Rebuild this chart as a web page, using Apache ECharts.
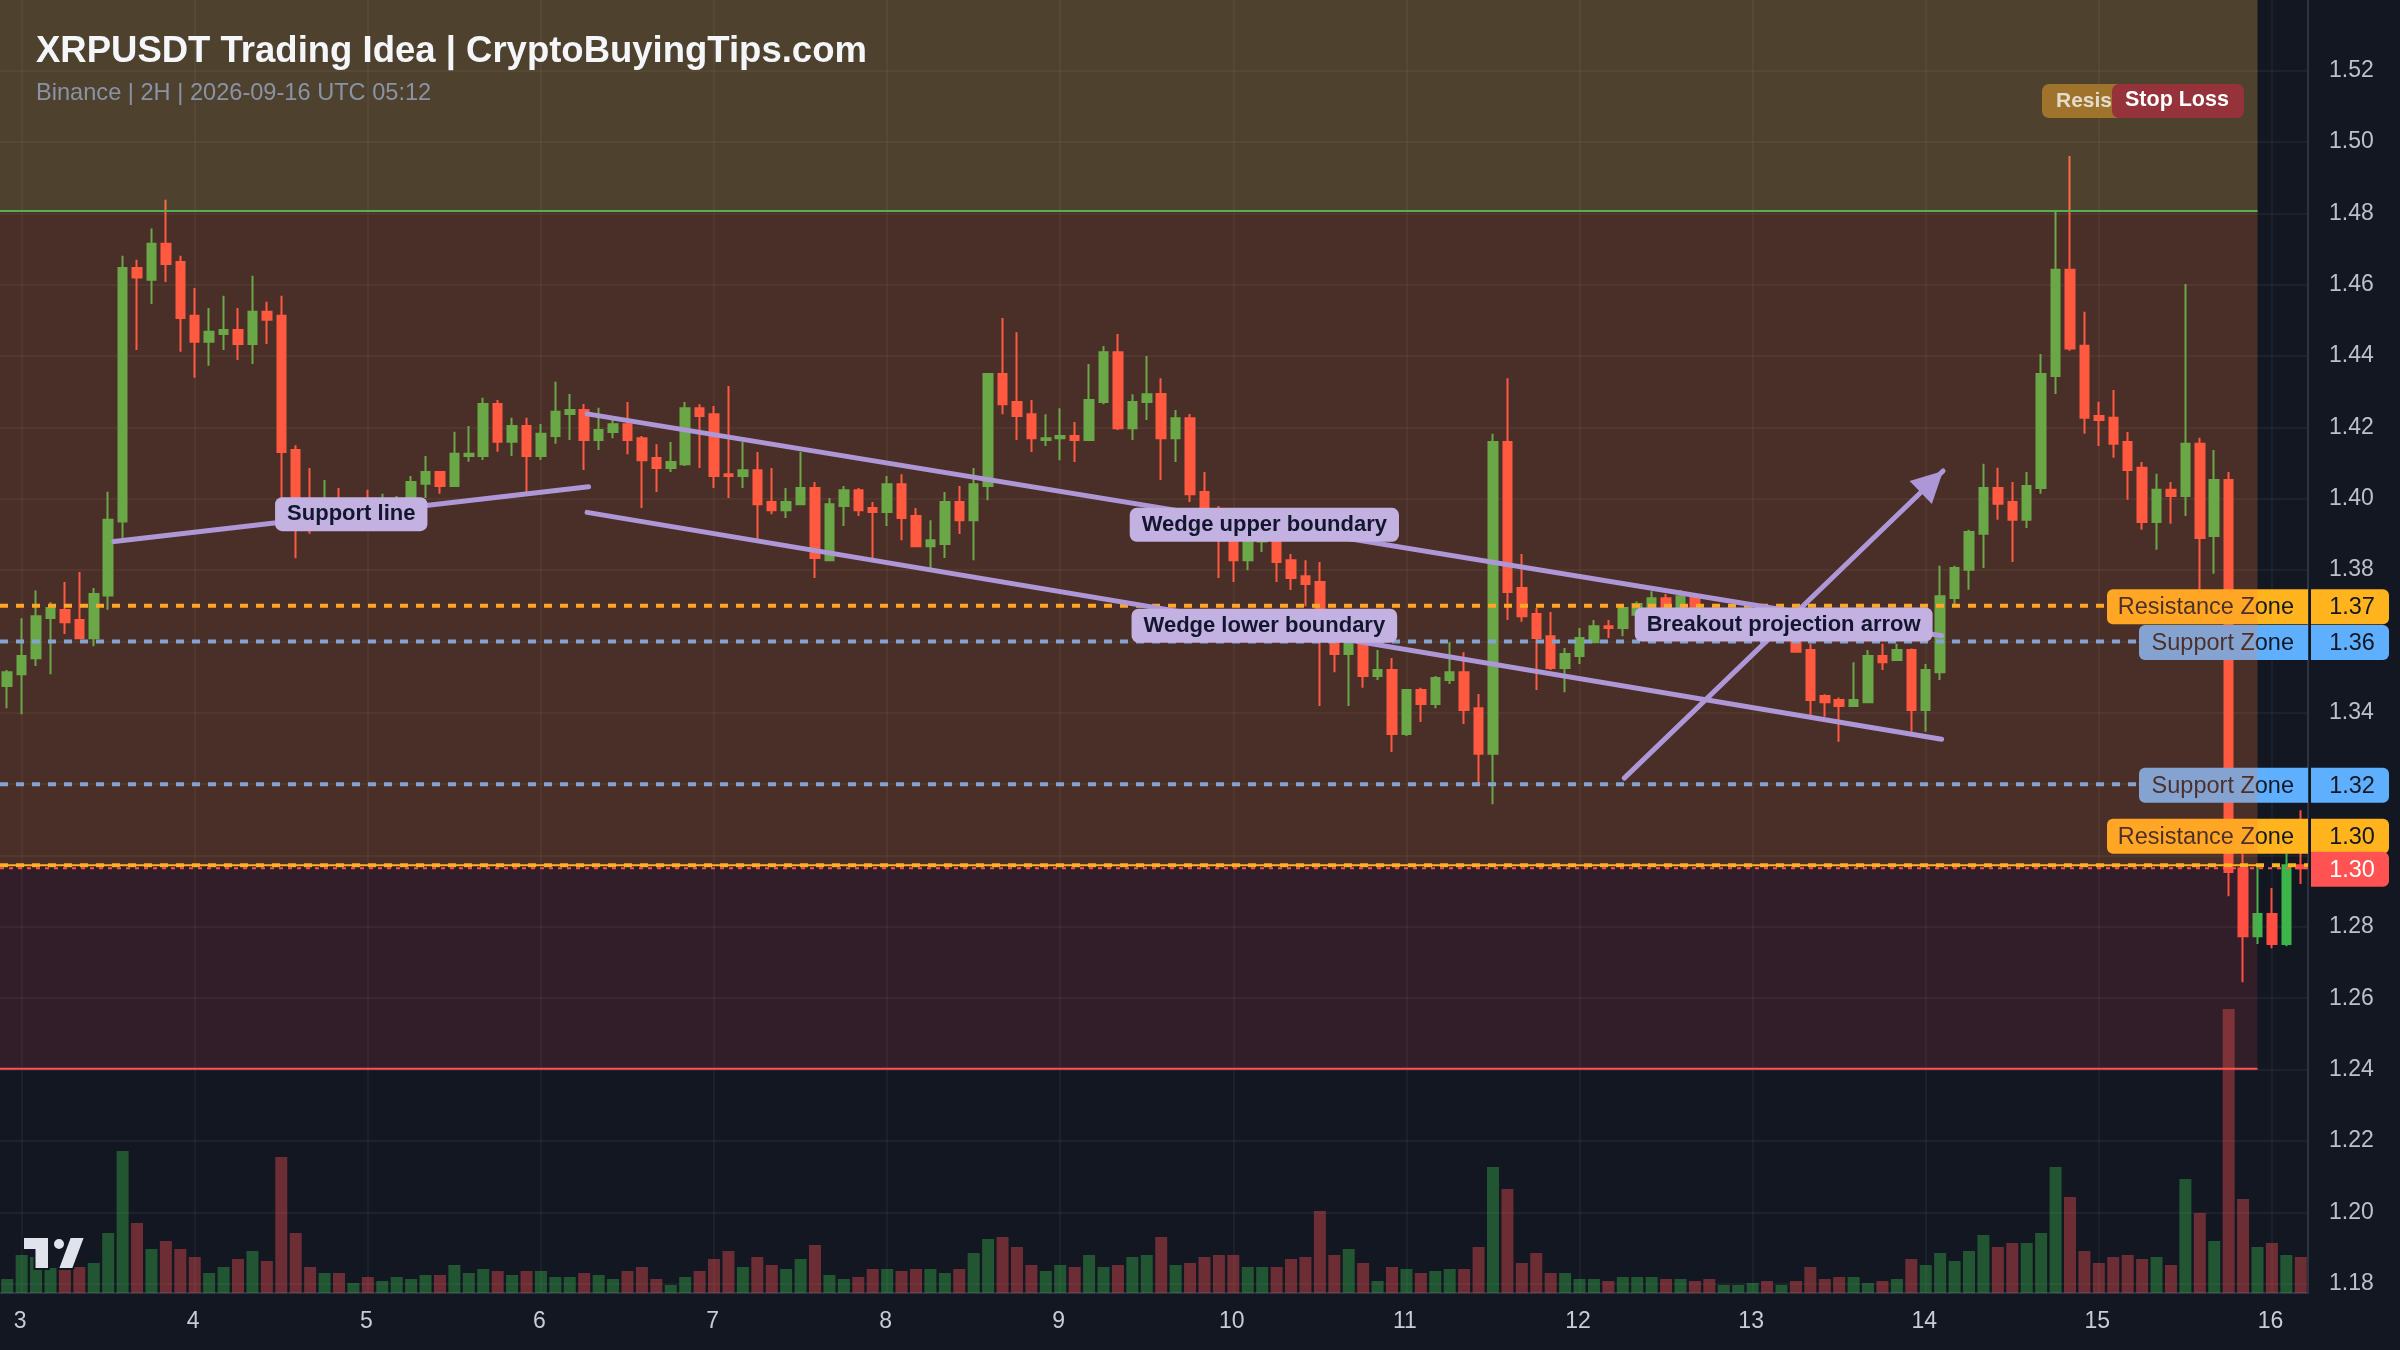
<!DOCTYPE html>
<html>
<head>
<meta charset="utf-8">
<title>XRPUSDT Trading Idea</title>
<script src="https://cdn.jsdelivr.net/npm/echarts@6/dist/echarts.min.js"></script>
<style>
  html, body { margin: 0; padding: 0; background: #121722; }
  #mainECharts { width: 2400px; height: 1350px; }
</style>
</head>
<body>
<div id="mainECharts"></div>
<script>
// candles, one every 2h
var opens = [
  1.3475,1.3508,1.3553,1.3666,1.3688,1.3660,1.3609,1.3729,1.3936,1.4647,1.4614,1.4715,
  1.4664,1.4513,1.4440,1.4462,1.4473,1.4434,1.4524,1.4513,1.4137,1.3995,1.3975,1.3985,
  1.3975,1.3990,1.3965,1.3970,1.4000,1.4042,1.4075,1.4036,1.4120,1.4120,1.4266,1.4160,
  1.4204,1.4120,1.4176,1.4238,1.4249,1.4165,1.4187,1.4209,1.4170,1.4114,1.4086,1.4097,
  1.4254,1.4237,1.4069,1.4064,1.4080,1.3991,1.3968,1.3985,1.4030,1.3828,1.3980,1.4024,
  1.3974,1.3963,1.4041,1.3952,1.3867,1.3873,1.3991,1.3940,1.4036,1.4350,1.4271,1.4237,
  1.4165,1.4170,1.4176,1.4165,1.4271,1.4411,1.4198,1.4271,1.4294,1.4170,1.4226,1.4019,
  1.3965,1.3890,1.3828,1.3880,1.3895,1.3828,1.3783,1.3767,1.3650,1.3565,1.3645,1.3503,
  1.3520,1.3341,1.3464,1.3425,1.3492,1.3514,1.3413,1.3285,1.4159,1.3750,1.3677,1.3615,
  1.3526,1.3559,1.3598,1.3643,1.3638,1.3675,1.3690,1.3721,1.3690,1.3725,1.3690,1.3650,
  1.3660,1.3665,1.3690,1.3650,1.3660,1.3576,1.3447,1.3436,1.3419,1.3430,1.3559,1.3548,
  1.3576,1.3408,1.3514,1.3722,1.3801,1.3902,1.4030,1.3991,1.3941,1.4030,1.4344,1.4642,
  1.4429,1.4232,1.4227,1.4159,1.4087,1.3935,1.4025,1.4008,1.4154,1.3896,1.4053,1.2964,
  1.2774,1.2836,1.2752,1.2973
];
var closes = [
  1.3514,1.3559,1.3671,1.3694,1.3654,1.3609,1.3733,1.3941,1.4647,1.4620,1.4715,1.4658,
  1.4507,1.4440,1.4468,1.4473,1.4434,1.4524,1.4502,1.4131,1.3985,1.3965,1.3990,1.3960,
  1.3990,1.3965,1.3990,1.3995,1.4047,1.4075,1.4036,1.4126,1.4126,1.4266,1.4160,1.4204,
  1.4120,1.4182,1.4244,1.4249,1.4165,1.4193,1.4209,1.4165,1.4108,1.4086,1.4103,1.4254,
  1.4232,1.4064,1.4064,1.4080,1.3985,1.3968,1.3991,1.4030,1.3834,1.3985,1.4024,1.3968,
  1.3963,1.4041,1.3946,1.3867,1.3884,1.3991,1.3940,1.4041,1.4350,1.4265,1.4232,1.4170,
  1.4170,1.4176,1.4165,1.4277,1.4411,1.4198,1.4271,1.4293,1.4170,1.4226,1.4013,1.3950,
  1.3905,1.3828,1.3880,1.3900,1.3823,1.3778,1.3761,1.3645,1.3565,1.3660,1.3503,1.3520,
  1.3341,1.3464,1.3425,1.3498,1.3514,1.3408,1.3285,1.4159,1.3739,1.3671,1.3610,1.3526,
  1.3565,1.3610,1.3643,1.3638,1.3694,1.3705,1.3721,1.3690,1.3727,1.3690,1.3650,1.3675,
  1.3685,1.3690,1.3660,1.3680,1.3571,1.3436,1.3430,1.3419,1.3436,1.3559,1.3542,1.3576,
  1.3408,1.3520,1.3727,1.3806,1.3907,1.4030,1.3986,1.3941,1.4036,1.4350,1.4642,1.4421,
  1.4227,1.4221,1.4154,1.4081,1.3935,1.4025,1.4008,1.4154,1.3890,1.4053,1.2954,1.2774,
  1.2836,1.2752,1.2973,1.2964
];
var lows = [
  1.3413,1.3396,1.3531,1.3508,1.3621,1.3609,1.3587,1.3689,1.3889,1.4417,1.4546,1.4608,
  1.4412,1.4339,1.4373,1.4417,1.4389,1.4378,1.4434,1.3988,1.3833,1.3902,1.3950,1.3940,
  1.3950,1.3945,1.3950,1.3950,1.3975,1.4002,1.4014,1.4036,1.4104,1.4109,1.4132,1.4120,
  1.4016,1.4109,1.4154,1.4165,1.4081,1.4137,1.4170,1.4125,1.3974,1.4019,1.4075,1.4092,
  1.4086,1.4030,1.4002,1.4030,1.3884,1.3957,1.3946,1.3985,1.3778,1.3828,1.3924,1.3952,
  1.3834,1.3924,1.3884,1.3867,1.3806,1.3834,1.3901,1.3828,1.3996,1.4237,1.4165,1.4131,
  1.4148,1.4108,1.4103,1.4165,1.4265,1.4193,1.4165,1.4221,1.4053,1.4103,1.3991,1.3935,
  1.3778,1.3767,1.3800,1.3851,1.3767,1.3744,1.3699,1.3419,1.3514,1.3419,1.3470,1.3492,
  1.3290,1.3335,1.3374,1.3413,1.3481,1.3369,1.3200,1.3144,1.3660,1.3655,1.3464,1.3520,
  1.3458,1.3537,1.3598,1.3610,1.3615,1.3660,1.3670,1.3670,1.3670,1.3670,1.3640,1.3640,
  1.3645,1.3650,1.3645,1.3640,1.3571,1.3394,1.3389,1.3319,1.3419,1.3430,1.3520,1.3548,
  1.3347,1.3347,1.3492,1.3705,1.3745,1.3806,1.3941,1.3823,1.3918,1.4014,1.4294,1.4415,
  1.4182,1.4148,1.4115,1.3997,1.3913,1.3857,1.3930,1.3952,1.3740,1.3790,1.2886,1.2645,
  1.2752,1.2740,1.2746,1.2920
];
var highs = [
  1.3520,1.3665,1.3743,1.3710,1.3767,1.3795,1.3750,1.4020,1.4681,1.4670,1.4758,1.4838,
  1.4681,1.4591,1.4535,1.4569,1.4535,1.4625,1.4552,1.4569,1.4150,1.4086,1.4053,1.4030,
  1.3995,1.4025,1.4014,1.4008,1.4064,1.4120,1.4078,1.4188,1.4204,1.4283,1.4277,1.4227,
  1.4227,1.4210,1.4328,1.4294,1.4266,1.4255,1.4221,1.4271,1.4176,1.4153,1.4159,1.4271,
  1.4265,1.4260,1.4316,1.4159,1.4131,1.4086,1.4030,1.4131,1.4047,1.4002,1.4036,1.4030,
  1.3991,1.4064,1.4069,1.3974,1.3940,1.4019,1.4036,1.4086,1.4350,1.4507,1.4467,1.4277,
  1.4237,1.4254,1.4215,1.4378,1.4428,1.4462,1.4293,1.4400,1.4338,1.4249,1.4238,1.4075,
  1.3980,1.3900,1.3900,1.3915,1.3900,1.3845,1.3828,1.3823,1.3670,1.3675,1.3665,1.3576,
  1.3554,1.3464,1.3470,1.3503,1.3598,1.3570,1.3453,1.4182,1.4338,1.3845,1.3694,1.3683,
  1.3582,1.3638,1.3660,1.3660,1.3699,1.3712,1.3741,1.3733,1.3744,1.3735,1.3692,1.3690,
  1.3692,1.3695,1.3695,1.3690,1.3665,1.3594,1.3452,1.3443,1.3542,1.3576,1.3594,1.3594,
  1.3580,1.3537,1.3812,1.3812,1.3913,1.4098,1.4087,1.4047,1.4075,1.4406,1.4807,1.4961,
  1.4524,1.4272,1.4305,1.4187,1.4103,1.4070,1.4047,1.4602,1.4171,1.4137,1.4075,1.3006,
  1.2968,1.2909,1.3006,1.3127
];
var volumes = [
  14,38,36,25,24,26,30,60,142,70,44,52,
  44,36,20,26,34,42,32,136,60,26,20,20,
  10,16,12,16,14,18,18,28,20,24,22,18,
  22,22,16,16,20,18,14,22,26,14,8,16,
  22,34,42,26,36,28,24,34,48,18,14,16,
  24,24,22,24,24,20,24,40,54,56,46,28,
  22,28,26,38,26,28,36,38,56,28,30,36,
  38,38,26,26,26,34,36,82,38,44,30,12,
  26,24,20,22,24,24,46,126,104,30,40,20,
  20,14,14,12,16,16,16,14,14,12,14,8,
  8,10,12,8,12,26,14,16,16,10,12,14,
  34,28,40,32,42,58,46,50,50,60,126,96,
  42,30,36,38,34,36,28,114,80,52,284,94,
  46,50,38,36
];

// axis ticks
var dayLabels = ['3','4','5','6','7','8','9','10','11','12','13','14','15','16'];
var dayTickIndex = [1,13,25,37,49,61,73,85,97,109,121,133,145,157];
var priceTicks = [1.18,1.20,1.22,1.24,1.26,1.28,1.30,1.32,1.34,1.36,1.38,1.40,1.42,1.44,1.46,1.48,1.50,1.52];

// zones, last candle index the zones reach
var zoneTops = [1.5398, 1.4807, 1.2973];
var zoneBottoms = [1.4807, 1.2973, 1.2402];
var zoneEndIndex = 156;

// dashed levels and their tags on the price scale
var levelNames = ['Resistance Zone', 'Support Zone', 'Support Zone', 'Resistance Zone', ''];
var levelPrices = [1.37, 1.36, 1.32, 1.2973, 1.2964];
var levelTexts = ['1.37', '1.36', '1.32', '1.30', '1.30'];

// drawn lines: from/to in candle index and price
var noteLabels = ['Support line', 'Wedge upper boundary', 'Wedge lower boundary', 'Breakout projection arrow'];
var noteFromIndex = [7.4, 40.2, 40.2, 112.1];
var noteFromPrice = [1.388, 1.4238, 1.3962, 1.3217];
var noteToIndex = [40.3, 134.1, 134.1, 134.2];
var noteToPrice = [1.4034, 1.3616, 1.3326, 1.4078];

var upColor = '#3cb54a', downColor = '#ff4e40';
var orange = '#ffb41e', blue = '#5fafff', red = '#ff5252';
var noteColor = '#ae97d7';
var zoneColors = ['rgba(253,188,80,0.26)', 'rgba(255,127,63,0.24)', 'rgba(255,82,82,0.135)'];
var levelColors = [orange, blue, blue, orange, red];
var sans = '"Liberation Sans", Arial, sans-serif';

var candleNames = opens.map(function (v, i) { return String(i); });
var candleData = opens.map(function (v, i) { return [opens[i], closes[i], lows[i], highs[i]]; });
var volumeData = volumes.map(function (v, i) {
  return { value: v, itemStyle: { color: closes[i] >= opens[i] ? 'rgba(60,181,74,0.4)' : 'rgba(245,81,79,0.4)' } };
});

function levelLine(i) {
  return {
    type: 'line', xAxisIndex: 1, yAxisIndex: 0, z: 3, silent: true, showSymbol: false,
    data: [[-0.5, levelPrices[i]], [159.5, levelPrices[i]]],
    lineStyle: i === 4 ? { color: red, width: 2, type: [4, 5] } : { color: levelColors[i], width: 4, type: [8, 8] }
  };
}

function zoneLine(price, color) {
  return {
    type: 'line', xAxisIndex: 1, yAxisIndex: 0, z: 6, silent: true, showSymbol: false,
    data: [[-0.5, price], [zoneEndIndex, price]],
    lineStyle: { color: color, width: 2 }
  };
}

function noteLine(i) {
  return {
    type: 'line', xAxisIndex: 1, yAxisIndex: 0, z: 7, silent: true, showSymbol: false,
    data: [[noteFromIndex[i], noteFromPrice[i]], [noteToIndex[i], noteToPrice[i]]],
    lineStyle: { color: noteColor, width: 5, cap: 'round' }
  };
}

function renderZone(params, api) {
  var i = params.dataIndex;
  var right = api.coord([zoneEndIndex, zoneTops[i]])[0];
  var top = api.coord([0, zoneTops[i]])[1];
  var bottom = api.coord([0, zoneBottoms[i]])[1];
  return {
    type: 'rect',
    shape: { x: 0, y: top, width: right, height: bottom - top },
    style: { fill: zoneColors[i] }
  };
}

function renderTag(params, api) {
  var i = params.dataIndex;
  var axisX = params.coordSys.x + params.coordSys.width + 1;
  var y = api.coord([0, levelPrices[i]])[1] + 1;
  if (i === 3) y -= 30; // the tag is pushed up, the red one sits on this level
  var h = 35;
  var kids = [{
    type: 'rect',
    shape: { x: axisX + 2, y: y - h / 2, width: 78, height: h, r: [0, 6, 6, 0] },
    style: { fill: levelColors[i] }
  }, {
    type: 'text',
    style: {
      x: axisX + 43, y: y + 1, text: levelTexts[i], align: 'center', verticalAlign: 'middle',
      fill: i === 4 ? '#ffffff' : '#131722', font: '23.5px ' + sans
    }
  }];
  if (levelNames[i]) {
    var w = levelNames[i] === 'Support Zone' ? 169 : 201;
    kids.push({
      type: 'rect',
      shape: { x: axisX - w - 1, y: y - h / 2, width: w, height: h, r: [6, 0, 0, 6] },
      style: { fill: levelColors[i] }
    }, {
      type: 'text',
      style: {
        x: axisX - 15, y: y + 1, text: levelNames[i], align: 'right', verticalAlign: 'middle',
        fill: '#131722', font: '23.5px ' + sans
      }
    });
  }
  return { type: 'group', children: kids };
}

function renderArrowHead(params, api) {
  var tip = api.coord([noteToIndex[3], noteToPrice[3]]);
  var from = api.coord([noteFromIndex[3], noteFromPrice[3]]);
  var dx = tip[0] - from[0], dy = tip[1] - from[1];
  var len = Math.sqrt(dx * dx + dy * dy);
  dx /= len; dy /= len;
  var bx = tip[0] - dx * 31, by = tip[1] - dy * 31;
  return {
    type: 'polygon',
    shape: { points: [tip, [bx - dy * 16, by + dx * 16], [bx + dy * 16, by - dx * 16]] },
    style: { fill: noteColor }
  };
}

function renderNoteLabel(params, api) {
  var i = params.dataIndex;
  var p = api.coord([(noteFromIndex[i] + noteToIndex[i]) / 2, (noteFromPrice[i] + noteToPrice[i]) / 2]);
  return {
    type: 'text',
    style: {
      x: p[0], y: p[1], text: noteLabels[i], align: 'center', verticalAlign: 'middle',
      fill: '#12172f', font: 'bold 22px ' + sans,
      backgroundColor: '#c3b1e1', borderRadius: 7, padding: [6, 12, 6, 12]
    }
  };
}

var series = [{
  type: 'bar', xAxisIndex: 0, yAxisIndex: 1, z: 1, silent: true,
  barWidth: 12, data: volumeData
}, {
  type: 'candlestick', xAxisIndex: 0, yAxisIndex: 0, z: 2, silent: true,
  barWidth: 9, data: candleData,
  itemStyle: { color: upColor, color0: downColor, borderColor: upColor, borderColor0: downColor, borderWidth: 2 }
}];
levelPrices.forEach(function (p, i) { series.push(levelLine(i)); });
series.push({
  type: 'custom', xAxisIndex: 1, yAxisIndex: 0, z: 4, silent: true, renderItem: renderTag,
  data: levelPrices.map(function (p, i) { return [i, p]; })
});
series.push({
  type: 'custom', xAxisIndex: 1, yAxisIndex: 0, z: 5, silent: true, renderItem: renderZone,
  data: zoneTops.map(function (p, i) { return [i, p]; })
});
series.push(zoneLine(zoneBottoms[0], '#52b24f'));
series.push(zoneLine(zoneBottoms[1], orange));
series.push(zoneLine(zoneBottoms[2], red));
noteLabels.forEach(function (n, i) { series.push(noteLine(i)); });
series.push({
  type: 'custom', xAxisIndex: 1, yAxisIndex: 0, z: 8, silent: true, renderItem: renderArrowHead,
  data: [[noteToIndex[3], noteToPrice[3]]]
});
series.push({
  type: 'custom', xAxisIndex: 1, yAxisIndex: 0, z: 9, silent: true, renderItem: renderNoteLabel,
  data: noteLabels.map(function (n, i) { return [noteToIndex[i], noteToPrice[i]]; })
});

var logoStyle = { fill: '#e0e3eb', stroke: '#121722', lineWidth: 2 };

var option = {
  animation: false,
  backgroundColor: '#121722',
  grid: { left: -1, top: 0, width: 2309, height: 1293 },
  xAxis: [{
    type: 'category', data: candleNames, show: false
  }, {
    type: 'value', min: -0.5, max: 159.5, position: 'bottom',
    axisLine: { show: true, onZero: false, lineStyle: { color: '#2e3340', width: 2 } },
    axisTick: { show: false, customValues: dayTickIndex },
    splitLine: { show: true, lineStyle: { color: 'rgba(255,255,255,0.04)', width: 2 } },
    axisLabel: {
      customValues: dayTickIndex, margin: 17, color: '#c8ccd6',
      fontFamily: sans, fontSize: 23, padding: [0, 3, 0, 0],
      formatter: function (v) { return dayLabels[dayTickIndex.indexOf(v)]; }
    }
  }],
  yAxis: [{
    type: 'value', position: 'right', min: 1.17737, max: 1.53982,
    axisLine: { show: true, onZero: false, lineStyle: { color: '#2e3340', width: 2 } },
    axisTick: { show: false, customValues: priceTicks },
    splitLine: { show: true, lineStyle: { color: 'rgba(255,255,255,0.045)', width: 2 } },
    axisLabel: {
      customValues: priceTicks, margin: 21, color: '#bcc0ca',
      fontFamily: sans, fontSize: 23, padding: [6, 0, 0, 0],
      formatter: function (v) { return v.toFixed(2); }
    }
  }, {
    type: 'value', min: 0, max: 1293, show: false
  }],
  series: series,
  graphic: [{
    type: 'text', z: 20, silent: true,
    style: { x: 36, y: 52, text: 'XRPUSDT Trading Idea | CryptoBuyingTips.com', verticalAlign: 'middle', fill: '#f5f6fa', font: 'bold 36.5px ' + sans }
  }, {
    type: 'text', z: 20, silent: true,
    style: { x: 36, y: 93, text: 'Binance | 2H | 2026-09-16 UTC 05:12', verticalAlign: 'middle', fill: '#8a93a6', font: '23.6px ' + sans }
  }, {
    type: 'rect', z: 20, silent: true,
    shape: { x: 2042, y: 84, width: 120, height: 34, r: 7 },
    style: { fill: '#a0732d' }
  }, {
    type: 'text', z: 20, silent: true,
    style: { x: 2056, y: 101, text: 'Resistance Zone', verticalAlign: 'middle', fill: '#e3dccd', font: 'bold 21px ' + sans }
  }, {
    type: 'rect', z: 21, silent: true,
    shape: { x: 2112, y: 84, width: 132, height: 34, r: 7 },
    style: { fill: '#96323a' }
  }, {
    type: 'text', z: 21, silent: true,
    style: { x: 2125, y: 100, text: 'Stop Loss', verticalAlign: 'middle', fill: '#ffffff', font: 'bold 21.5px ' + sans }
  }, {
    type: 'polygon', z: 20, silent: true,
    shape: { points: [[23, 1237], [49, 1237], [49, 1269], [34.5, 1269], [34.5, 1250], [23, 1250]] },
    style: logoStyle
  }, {
    type: 'circle', z: 20, silent: true,
    shape: { cx: 59, cy: 1244, r: 6 },
    style: logoStyle
  }, {
    type: 'polygon', z: 20, silent: true,
    shape: { points: [[70, 1237], [85, 1237], [73, 1269], [58, 1269]] },
    style: logoStyle
  }]
};

var myChart = echarts.init(document.getElementById('mainECharts'));
myChart.setOption(option);
</script>
</body>
</html>
